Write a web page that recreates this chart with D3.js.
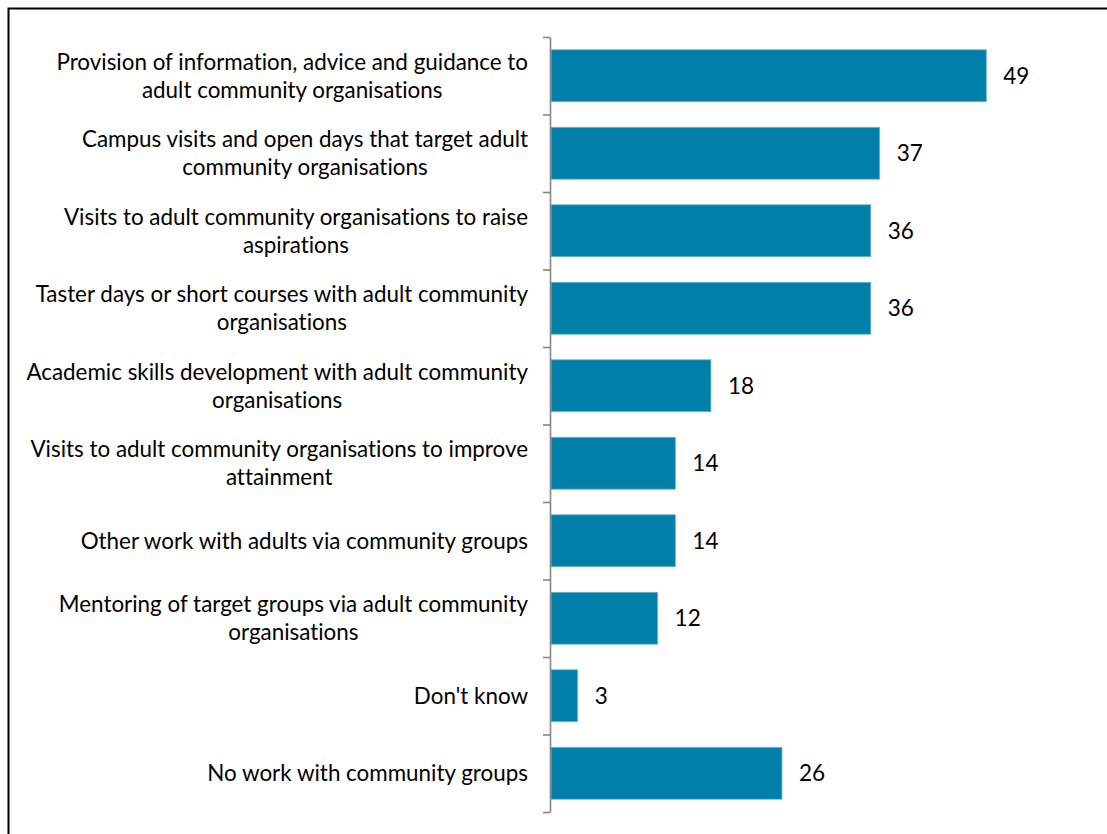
<!DOCTYPE html>
<html>
<head>
<meta charset="utf-8">
<script src="https://cdn.jsdelivr.net/npm/d3@7"></script>
<style>
  html, body { margin: 0; padding: 0; background: #fff; }
  svg { display: block; }
  text { font-family: Lato, "Open Sans", sans-serif; fill: #000;
         font-variant-ligatures: none; font-feature-settings: "liga" 0; }
</style>
</head>
<body>
<svg id="chart" width="1107" height="834"></svg>
<script>
// Activities undertaken with adult community organisations (%)
const categories = [
  ["Provision of information, advice and guidance to", "adult community organisations"],
  ["Campus visits and open days that target adult", "community organisations"],
  ["Visits to adult community organisations to raise", "aspirations"],
  ["Taster days or short courses with adult community", "organisations"],
  ["Academic skills development with adult community", "organisations"],
  ["Visits to adult community organisations to improve", "attainment"],
  ["Other work with adults via community groups"],
  ["Mentoring of target groups via adult community", "organisations"],
  ["Don't know"],
  ["No work with community groups"]
];
const values = [49, 37, 36, 36, 18, 14, 14, 12, 3, 26];

const svg = d3.select("#chart");

// outer frame
svg.append("rect")
  .attr("x", 8.5).attr("y", 8.5)
  .attr("width", 1110).attr("height", 840)
  .attr("fill", "none").attr("stroke", "#000").attr("stroke-width", 2);

const keys = categories.map((c, i) => i);

const y = d3.scaleBand()
  .domain(keys)
  .range([37, 812])
  .paddingInner(0.33)
  .paddingOuter(0.165);

const x = d3.scaleLinear()
  .domain([0, 60])
  .range([551, 1084]);

// bars
svg.append("g").selectAll("rect")
  .data(values)
  .join("rect")
  .attr("x", x(0))
  .attr("y", (d, i) => y(i))
  .attr("width", d => x(d) - x(0))
  .attr("height", y.bandwidth())
  .attr("fill", "#0080a8")
  .attr("stroke", "#6fb6d0")
  .attr("stroke-width", 0.8);

// value labels
svg.append("g").selectAll("text")
  .data(values)
  .join("text")
  .attr("x", d => x(d) + 17)
  .attr("y", (d, i) => y(i) + y.bandwidth() / 2)
  .attr("dy", "0.35em")
  .attr("font-size", 22.5)
  .text(d => d);

// category axis with ticks at band boundaries
const edge = d3.scaleLinear()
  .domain([0, categories.length])
  .range([37, 812]);

const axis = svg.append("g")
  .attr("transform", "translate(550,0)")
  .call(d3.axisLeft(edge)
    .tickValues(d3.range(categories.length + 1))
    .tickFormat("")
    .tickSize(7)
    .tickSizeOuter(0));
axis.select(".domain").attr("stroke", "#868686").attr("stroke-width", 1.6);
axis.selectAll(".tick line").attr("stroke", "#868686").attr("stroke-width", 1.6);

// category labels: block right-aligned, lines centred within block
const labelRight = 528;
const lineH = 28;
const lg = svg.append("g");
categories.forEach((lines, i) => {
  const cy = y(i) + y.bandwidth() / 2;
  const t = lg.append("text")
    .attr("font-size", 22.4)
    .attr("text-anchor", "middle");
  const spans = lines.map((ln, k) =>
    t.append("tspan")
      .attr("y", cy + (k - (lines.length - 1) / 2) * lineH)
      .attr("dy", "0.35em")
      .text(ln));
  const maxW = d3.max(spans, s => s.node().getComputedTextLength());
  spans.forEach(s => s.attr("x", labelRight - maxW / 2));
});
</script>
</body>
</html>
